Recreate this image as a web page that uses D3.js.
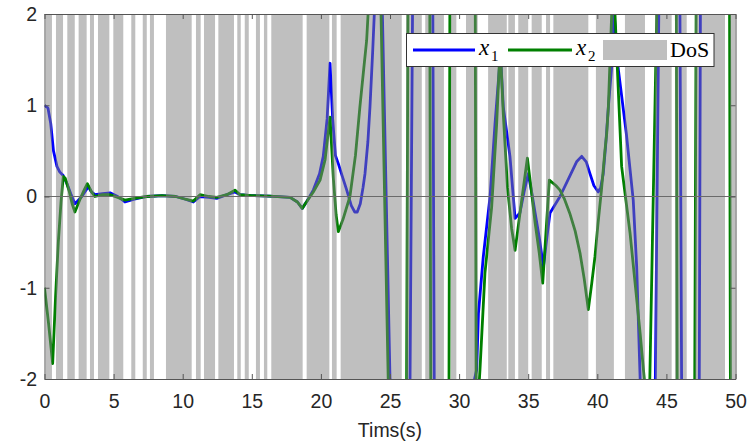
<!DOCTYPE html>
<html>
<head>
<meta charset="utf-8">
<script src="https://cdn.jsdelivr.net/npm/d3@7"></script>
<style>
  body { margin: 0; background: #fff; }
  svg text { font-family: "Liberation Sans", Arial, sans-serif; }
</style>
</head>
<body>
<svg id="chart" width="748" height="442"></svg>
<script>
// DoS attack intervals [start, end] in seconds
const dosIntervals = [
  [0.1, 0.54], [0.83, 1.34], [1.65, 2.19], [2.47, 3.05], [3.29, 3.58], [3.87, 4.69],
  [4.98, 5.70], [6.28, 6.57], [7.11, 7.40], [7.63, 7.92], [8.79, 10.65], [10.96, 11.30],
  [11.54, 12.34], [12.58, 13.71], [13.95, 14.20], [14.49, 14.78], [15.30, 15.59], [15.88, 16.12],
  [16.41, 18.68], [18.97, 20.61], [20.80, 21.14], [21.43, 25.85], [26.16, 27.3], [27.55, 28.9],
  [29.4, 29.8], [30.5, 31.35], [32.1, 33.45], [33.56, 34.04], [34.28, 35.0], [35.25, 35.98],
  [36.29, 36.58], [36.82, 39.35], [39.9, 41.2], [42.0, 43.45], [44.18, 45.38], [45.62, 46.47],
  [47.07, 49.24], [49.6, 50]
];

// state x1 : [time, value]  (values outside [-2,2] are guesses, they get clipped)
const x1Points = [
  [0, 1.0], [0.25, 0.97], [0.45, 0.8], [0.65, 0.5], [0.9, 0.33], [1.1, 0.27], [1.35, 0.23],
  [1.6, 0.15], [1.9, 0.03], [2.2, -0.08], [2.4, -0.05], [2.7, 0.0], [3.0, 0.07], [3.17, 0.11],
  [3.4, 0.05], [3.65, 0.02], [4.2, 0.03], [4.74, 0.04], [5.3, 0.0], [5.82, -0.06], [6.5, -0.03],
  [7.4, 0.0], [8.5, 0.01], [9.5, 0.0], [10.2, -0.03], [10.77, -0.06], [11.25, 0.0], [11.9, -0.01],
  [12.46, -0.02], [13.2, 0.02], [13.78, 0.05], [14.15, 0.02], [15, 0.01], [16.3, 0.005],
  [17.77, -0.01], [18.3, -0.06], [18.65, -0.13], [19.0, -0.05], [19.45, 0.07], [19.9, 0.25],
  [20.17, 0.44], [20.45, 0.85], [20.66, 1.46], [20.85, 0.85], [21.05, 0.45], [21.26, 0.36],
  [21.55, 0.22], [21.87, 0.07], [22.2, -0.1], [22.45, -0.17], [22.63, -0.17], [22.85, -0.08],
  [23.05, 0.1], [23.19, 0.25], [23.4, 0.6], [23.55, 0.98], [23.75, 1.6], [23.95, 2.3],
  [24.2, 2.6], [24.45, 2.0], [25.0, -2.0], [25.7, -3.0], [26.45, -2.0], [26.63, 2.0],
  [27.3, 3.0], [28.1, 2.0], [28.2, -2.0], [29.6, -3.0], [31.27, -1.9], [31.4, -1.28],
  [31.75, -0.66], [32.24, 0.0], [32.6, 0.8], [32.9, 1.38], [33.0, 1.55], [33.2, 0.98],
  [33.68, 0.44], [34.05, -0.24], [34.4, -0.18], [34.7, 0.05], [35.0, 0.25], [35.25, 0.05],
  [35.5, -0.18], [35.8, -0.45], [36.1, -0.77], [36.35, -0.45], [36.58, -0.18], [37.3, 0.0],
  [38.0, 0.22], [38.5, 0.38], [38.87, 0.44], [39.2, 0.38], [39.47, 0.25], [39.75, 0.12],
  [40.07, 0.05], [40.25, 0.1], [40.43, 0.25], [40.6, 0.55], [40.8, 0.98], [41.04, 1.42],
  [41.2, 2.05], [41.5, 1.42], [42.1, 0.69], [42.6, -0.04], [42.85, -0.77], [43.1, -2.0],
  [43.6, -3.0], [44.2, -2.0], [44.45, 2.0], [45.2, 3.0], [45.98, 2.0], [46.1, -2.0],
  [46.8, -3.0], [47.38, -2.0], [47.46, 2.0], [50, 3.0]
];

// state x2 : [time, value]
const x2Points = [
  [0, -1.0], [0.3, -1.4], [0.59, -1.83], [0.8, -1.1], [1.0, -0.5], [1.2, -0.05], [1.36, 0.22],
  [1.5, 0.2], [1.8, 0.05], [2.0, -0.08], [2.2, -0.17], [2.6, -0.02], [2.9, 0.08], [3.1, 0.14],
  [3.4, 0.05], [3.65, 0.0], [4.2, 0.02], [4.74, 0.02], [5.3, -0.01], [5.82, -0.04], [6.5, -0.02],
  [7.4, 0.0], [8.5, 0.01], [9.5, 0.0], [10.2, -0.03], [10.77, -0.05], [11.25, 0.02], [11.9, 0.0],
  [12.46, -0.01], [13.2, 0.02], [13.78, 0.07], [14.15, 0.02], [15, 0.01], [16.3, 0.005],
  [17.77, -0.01], [18.3, -0.06], [18.65, -0.13], [19.0, -0.05], [19.45, 0.05], [19.94, 0.18],
  [20.3, 0.4], [20.66, 0.87], [20.9, 0.2], [21.1, -0.2], [21.26, -0.385], [21.6, -0.25],
  [22.1, 0.0], [22.5, 0.45], [22.82, 0.98], [23.1, 1.4], [23.31, 1.71], [23.45, 2.1],
  [23.9, 3.0], [24.35, 2.0], [24.87, -2.0], [25.5, -3.0], [26.2, -2.0], [26.3, 2.0],
  [27.1, 3.0], [27.88, 2.0], [27.95, -2.0], [28.6, -3.0], [29.27, -2.0], [29.33, 2.0],
  [30.2, 3.0], [31.17, 2.0], [31.23, -2.0], [31.35, -2.3], [31.51, -1.9], [31.87, -0.84],
  [32.36, -0.11], [32.72, 0.8], [32.9, 1.42], [33.0, 1.55], [33.2, 0.9], [33.5, 0.1],
  [33.8, -0.35], [34.05, -0.59], [34.53, -0.04], [34.94, 0.42], [35.2, 0.1], [35.5, -0.29],
  [35.8, -0.62], [36.05, -0.95], [36.53, 0.18], [37.0, 0.12], [37.3, 0.07], [37.6, -0.02],
  [38.0, -0.18], [38.4, -0.38], [38.75, -0.62], [39.05, -0.9], [39.35, -1.24], [39.6, -0.95],
  [39.83, -0.66], [40.05, -0.3], [40.3, 0.07], [40.55, 0.5], [40.68, 0.69], [40.8, 0.98],
  [41.04, 2.0], [41.15, 2.3], [41.28, 2.0], [41.76, 0.33], [42.37, -0.4], [43.1, -1.5],
  [43.4, -2.0], [43.55, -2.3], [43.8, -2.0], [44.3, 2.0], [45.0, 3.0], [45.72, 2.0],
  [45.78, -2.0], [46.4, -3.0], [47.05, -2.0], [47.15, 2.0], [48.4, 3.0], [49.57, 2.0],
  [49.63, -2.0], [50, -3.0]
];

const xTicks = [0, 5, 10, 15, 20, 25, 30, 35, 40, 45, 50];
const yTicks = [-2, -1, 0, 1, 2];
const xLabel = "Tims(s)";

const svg = d3.select("#chart");

// plot area in pixels
const plotLeft = 44.5, plotRight = 735.5, plotTop = 14, plotBottom = 379;

const x = d3.scaleLinear().domain([0, 50]).range([plotLeft, plotRight]);
const y = d3.scaleLinear().domain([-2, 2]).range([plotBottom, plotTop]);

svg.append("clipPath").attr("id", "plotClip")
  .append("rect")
  .attr("x", plotLeft).attr("y", plotTop)
  .attr("width", plotRight - plotLeft).attr("height", plotBottom - plotTop);

const plot = svg.append("g").attr("clip-path", "url(#plotClip)");

const line = d3.line()
  .x(d => x(d[0]))
  .y(d => y(d[1]));

// blue first, green goes over it
plot.append("path")
  .datum(x1Points)
  .attr("d", line)
  .attr("fill", "none")
  .attr("stroke", "#0000ff")
  .attr("stroke-width", 2.8)
  .attr("stroke-linejoin", "round");

plot.append("path")
  .datum(x2Points)
  .attr("d", line)
  .attr("fill", "none")
  .attr("stroke", "#008000")
  .attr("stroke-width", 2.8)
  .attr("stroke-linejoin", "round");

// DoS patches, half transparent grey drawn over the lines
plot.selectAll("rect.dos")
  .data(dosIntervals)
  .join("rect")
  .attr("class", "dos")
  .attr("x", d => x(d[0]))
  .attr("width", d => x(d[1]) - x(d[0]))
  .attr("y", plotTop)
  .attr("height", plotBottom - plotTop)
  .attr("fill", "#808080")
  .attr("fill-opacity", 0.5);

// zero line
svg.append("line")
  .attr("x1", plotLeft).attr("x2", plotRight)
  .attr("y1", y(0)).attr("y2", y(0))
  .attr("stroke", "#6a6a6a")
  .attr("stroke-width", 1);

// axes, ticks inward on all four sides (box on)
const fmt = d => String(d);
const axisColor = "#555";

const gBottom = svg.append("g").attr("transform", `translate(0,${plotBottom})`)
  .call(d3.axisBottom(x).tickValues(xTicks).tickFormat(fmt).tickSizeInner(-5).tickSizeOuter(0).tickPadding(15.5));
const gTop = svg.append("g").attr("transform", `translate(0,${plotTop})`)
  .call(d3.axisTop(x).tickValues(xTicks).tickFormat("").tickSizeInner(-5).tickSizeOuter(0));
const gLeft = svg.append("g").attr("transform", `translate(${plotLeft},0)`)
  .call(d3.axisLeft(y).tickValues(yTicks).tickFormat(fmt).tickSizeInner(-5).tickSizeOuter(0).tickPadding(7.5));
const gRight = svg.append("g").attr("transform", `translate(${plotRight},0)`)
  .call(d3.axisRight(y).tickValues(yTicks).tickFormat("").tickSizeInner(-5).tickSizeOuter(0));

[gBottom, gTop, gLeft, gRight].forEach(g => {
  g.select(".domain").attr("stroke", axisColor).attr("stroke-width", 1);
  g.selectAll(".tick line").attr("stroke", axisColor).attr("stroke-width", 1);
  g.selectAll(".tick text")
    .attr("fill", "#262626")
    .style("font-family", '"Liberation Sans", Arial, sans-serif')
    .style("font-size", "19.5px");
});

svg.append("text")
  .attr("x", (plotLeft + plotRight) / 2)
  .attr("y", 437)
  .attr("text-anchor", "middle")
  .attr("fill", "#262626")
  .style("font-size", "19.5px")
  .text(xLabel);

// legend
const legend = svg.append("g");
const serif = '"Liberation Serif", "DejaVu Serif", serif';

legend.append("rect")
  .attr("x", 406.5).attr("y", 33.5)
  .attr("width", 307.5).attr("height", 33)
  .attr("fill", "#fff")
  .attr("stroke", "#333")
  .attr("stroke-width", 1);

legend.append("line")
  .attr("x1", 413).attr("x2", 475).attr("y1", 50).attr("y2", 50)
  .attr("stroke", "#0000ff").attr("stroke-width", 3);
legend.append("text")
  .attr("x", 479).attr("y", 55)
  .style("font-family", serif).style("font-style", "italic").style("font-size", "23px")
  .text("x");
legend.append("text")
  .attr("x", 491).attr("y", 61)
  .style("font-family", serif).style("font-size", "15px")
  .text("1");

legend.append("line")
  .attr("x1", 508).attr("x2", 572).attr("y1", 50).attr("y2", 50)
  .attr("stroke", "#008000").attr("stroke-width", 3);
legend.append("text")
  .attr("x", 576).attr("y", 55)
  .style("font-family", serif).style("font-style", "italic").style("font-size", "23px")
  .text("x");
legend.append("text")
  .attr("x", 588).attr("y", 61)
  .style("font-family", serif).style("font-size", "15px")
  .text("2");

legend.append("rect")
  .attr("x", 603).attr("y", 40)
  .attr("width", 64).attr("height", 20)
  .attr("fill", "#808080").attr("fill-opacity", 0.5);
legend.append("text")
  .attr("x", 670).attr("y", 57)
  .style("font-family", serif).style("font-size", "22px")
  .text("DoS");
</script>
</body>
</html>
